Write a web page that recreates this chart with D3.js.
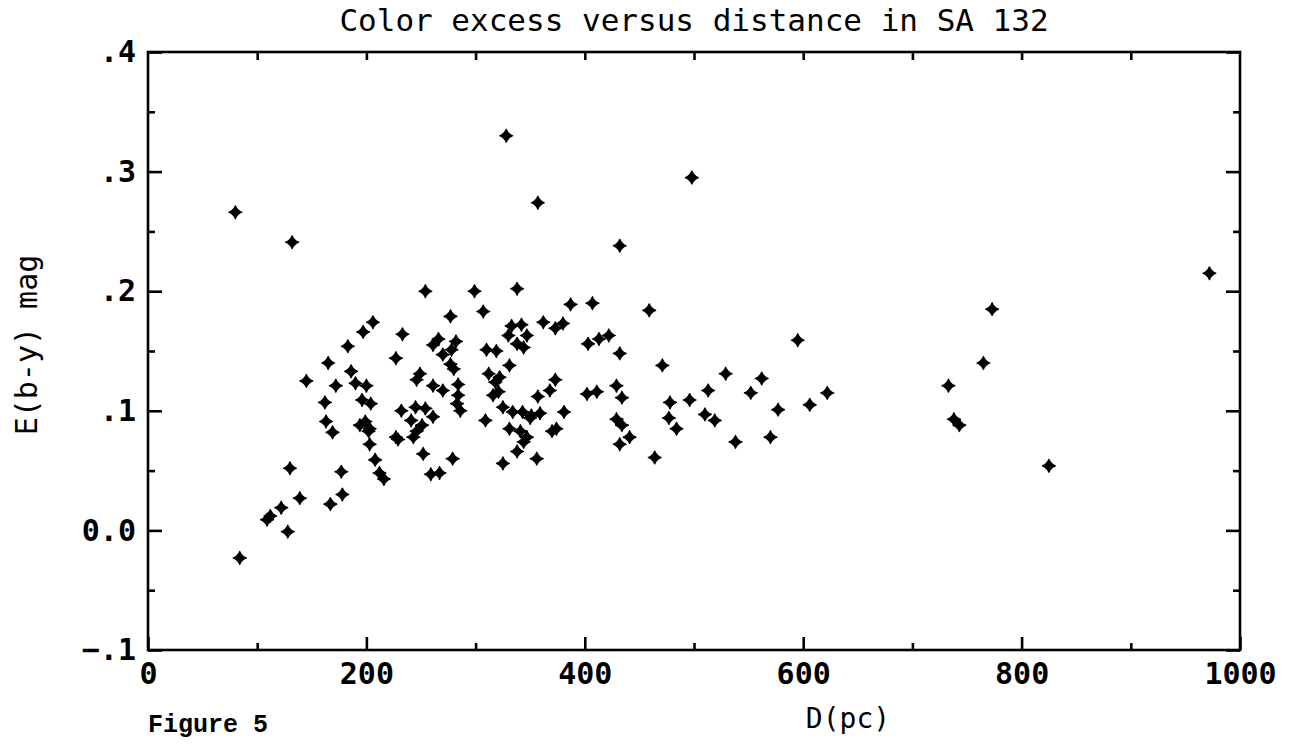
<!DOCTYPE html>
<html>
<head>
<meta charset="utf-8">
<script src="https://cdn.jsdelivr.net/npm/d3@7"></script>
<style>
  body { margin: 0; background: #fff; }
  .plotfont { font-family: "DejaVu Sans Mono", monospace; fill: #000; }
</style>
</head>
<body>
<div class="chart"></div>
<script>
/* data */
const distancePc = [80, 84, 132, 109, 112, 122, 128, 130, 139, 145,
  162, 163, 165, 167, 169, 172, 177, 178, 183, 186,
  190, 194, 196, 197, 199, 200, 202, 203, 203, 204,
  206, 208, 212, 216, 227, 227, 229, 232, 233, 241,
  243, 245, 246, 246, 249, 251, 252, 254, 254, 259,
  261, 261, 261, 266, 267, 270, 270, 277, 277, 278,
  279, 280, 282, 283, 284, 284, 286, 299, 307, 309,
  310, 312, 316, 318, 319, 321, 322, 325, 325, 328,
  330, 331, 331, 333, 334, 338, 338, 338, 341, 342,
  343, 344, 344, 347, 347, 350, 351, 356, 357, 357,
  359, 362, 368, 370, 373, 373, 374, 380, 381, 387,
  402, 403, 407, 411, 413, 422, 429, 429, 432, 432,
  432, 434, 434, 441, 459, 464, 471, 477, 478, 484,
  496, 498, 510, 513, 519, 529, 538, 552, 562, 570,
  577, 595, 606, 622, 733, 738, 743, 765, 773, 825,
  972];

const colorExcess = [0.266, -0.023, 0.241, 0.009, 0.012, 0.019, -0.001, 0.052, 0.027, 0.125,
  0.107, 0.091, 0.140, 0.022, 0.082, 0.121, 0.049, 0.030, 0.154, 0.133,
  0.123, 0.088, 0.109, 0.166, 0.091, 0.121, 0.083, 0.085, 0.072, 0.106,
  0.174, 0.059, 0.048, 0.043, 0.144, 0.078, 0.076, 0.100, 0.164, 0.092,
  0.078, 0.103, 0.083, 0.126, 0.131, 0.088, 0.064, 0.102, 0.200, 0.047,
  0.095, 0.121, 0.155, 0.160, 0.048, 0.117, 0.147, 0.139, 0.179, 0.151,
  0.060, 0.135, 0.158, 0.106, 0.122, 0.113, 0.100, 0.200, 0.183, 0.092,
  0.151, 0.131, 0.113, 0.124, 0.150, 0.116, 0.128, 0.103, 0.056, 0.330,
  0.163, 0.138, 0.085, 0.171, 0.099, 0.202, 0.156, 0.066, 0.083, 0.172,
  0.099, 0.153, 0.074, 0.163, 0.078, 0.094, 0.096, 0.060, 0.274, 0.112,
  0.098, 0.174, 0.117, 0.083, 0.169, 0.126, 0.085, 0.173, 0.099, 0.189,
  0.114, 0.156, 0.190, 0.116, 0.160, 0.163, 0.121, 0.093, 0.148, 0.072,
  0.238, 0.111, 0.088, 0.078, 0.184, 0.061, 0.138, 0.094, 0.107, 0.085,
  0.109, 0.295, 0.097, 0.117, 0.092, 0.131, 0.074, 0.115, 0.127, 0.078,
  0.101, 0.159, 0.105, 0.115, 0.121, 0.093, 0.088, 0.140, 0.185, 0.054,
  0.215];

const xMajorTicks = [0, 200, 400, 600, 800, 1000];
const xMinorTicks = [100, 300, 500, 700, 900];
const yMajorTicks = [-0.1, 0, 0.1, 0.2, 0.3, 0.4];
const yMinorTicks = [-0.05, 0.05, 0.15, 0.25, 0.35];

/* canvas */
const svg_width = 1302;
const svg_height = 746;
const margin = { top: 52, right: 62, bottom: 96, left: 148 };
const chart_width = svg_width - margin.left - margin.right;
const chart_height = svg_height - margin.top - margin.bottom;

const svg = d3.select(".chart").append("svg")
  .attr("width", svg_width)
  .attr("height", svg_height)
  .style("display", "block");

const g = svg.append("g")
  .attr("transform", `translate(${margin.left},${margin.top})`);

/* scales */
const xScale = d3.scaleLinear().domain([0, 1000]).range([0, chart_width]);
const yScale = d3.scaleLinear().domain([-0.1, 0.4]).range([chart_height, 0]);

const yFormat = d => d === 0 ? "0.0" : d3.format(".1f")(d).replace("0.", ".");

/* axes: ticks point inward */
function styleAxis(sel) {
  sel.select(".domain").remove();
  sel.selectAll(".tick line").attr("stroke", "#000").attr("stroke-width", 2.6);
  sel.selectAll(".tick text").attr("class", "plotfont")
    .style("font-size", "30px").style("font-weight", "bold").attr("fill", "#000");
}

g.append("g").attr("transform", `translate(0,${chart_height})`)
  .call(d3.axisBottom(xScale).tickValues(xMajorTicks).tickSizeInner(-13).tickSizeOuter(0)
    .tickPadding(13).tickFormat(d3.format("d")))
  .call(styleAxis);
g.append("g").attr("transform", `translate(0,${chart_height})`)
  .call(d3.axisBottom(xScale).tickValues(xMinorTicks).tickSizeInner(-7).tickSizeOuter(0).tickFormat(""))
  .call(styleAxis);
g.append("g")
  .call(d3.axisTop(xScale).tickValues(d3.range(100, 1000, 100)).tickSizeInner(-8).tickSizeOuter(0).tickFormat(""))
  .call(styleAxis);

g.append("g")
  .call(d3.axisLeft(yScale).tickValues(yMajorTicks).tickSizeInner(-14).tickSizeOuter(0).tickPadding(12).tickFormat(yFormat))
  .call(styleAxis);
g.append("g")
  .call(d3.axisLeft(yScale).tickValues(yMinorTicks).tickSizeInner(-7).tickSizeOuter(0).tickFormat(""))
  .call(styleAxis);
g.append("g").attr("transform", `translate(${chart_width},0)`)
  .call(d3.axisRight(yScale).tickValues(yMajorTicks).tickSizeInner(-14).tickSizeOuter(0).tickFormat(""))
  .call(styleAxis);
g.append("g").attr("transform", `translate(${chart_width},0)`)
  .call(d3.axisRight(yScale).tickValues(yMinorTicks).tickSizeInner(-7).tickSizeOuter(0).tickFormat(""))
  .call(styleAxis);

/* frame */
g.append("rect")
  .attr("x", 0).attr("y", 0)
  .attr("width", chart_width).attr("height", chart_height)
  .attr("fill", "none").attr("stroke", "#000").attr("stroke-width", 2.6);

/* plotter-style cross marker */
const starSymbol = {
  draw(context, size) {
    const r = Math.sqrt(size) / 2;
    const c = r * 0.28;
    context.moveTo(0, -r);
    context.quadraticCurveTo(c, -c, r, 0);
    context.quadraticCurveTo(c, c, 0, r);
    context.quadraticCurveTo(-c, c, -r, 0);
    context.quadraticCurveTo(-c, -c, 0, -r);
    context.closePath();
  }
};

const points = distancePc.map((d, i) => ({ d: d, e: colorExcess[i] }));

g.append("g").attr("class", "dots")
  .selectAll("path")
  .data(points)
  .join("path")
  .attr("transform", p => `translate(${xScale(p.d)},${yScale(p.e)})`)
  .attr("d", d3.symbol().type(starSymbol).size(169))
  .attr("fill", "#000")
  .attr("stroke", "#000")
  .attr("stroke-width", 1.2)
  .attr("stroke-linejoin", "round");

/* texts */
svg.append("text")
  .attr("class", "plotfont")
  .attr("x", margin.left + chart_width / 2)
  .attr("y", 31)
  .attr("text-anchor", "middle")
  .style("font-size", "31px")
  .text("Color excess versus distance in SA 132");

svg.append("text")
  .attr("class", "plotfont")
  .attr("transform", `translate(37,${345}) rotate(-90)`)
  .attr("text-anchor", "middle")
  .style("font-size", "30px")
  .text("E(b-y) mag");

svg.append("text")
  .attr("class", "plotfont")
  .attr("x", 848)
  .attr("y", 728)
  .attr("text-anchor", "middle")
  .style("font-size", "28px")
  .text("D(pc)");

svg.append("text")
  .attr("x", margin.left)
  .attr("y", 732)
  .style("font-family", "'Courier New', 'Liberation Mono', monospace")
  .style("font-size", "25px")
  .style("font-weight", "bold")
  .attr("fill", "#000")
  .text("Figure 5");
</script>
</body>
</html>
